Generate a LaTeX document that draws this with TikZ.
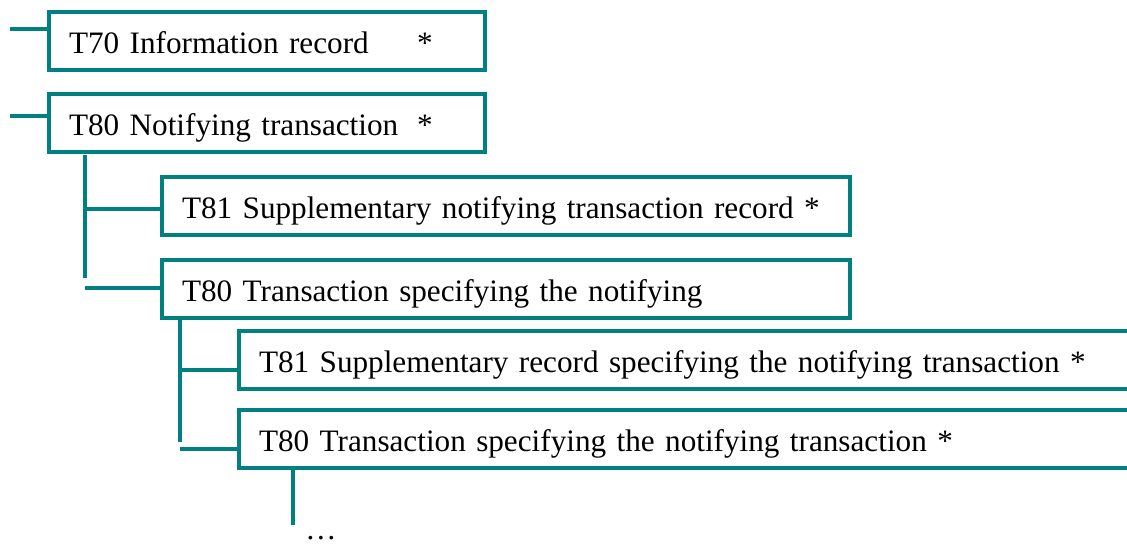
\documentclass[tikz,border=0pt]{standalone}
\usepackage{fontspec}
\setmainfont{Liberation Serif}
\tikzset{
  recbox/.style={
    rectangle,
    draw=teal, line width=2pt,
    inner xsep=10pt,
    minimum height=29pt,
    text height=15pt, text depth=3pt,
    align=left,
    font=\fontsize{15.6}{19}\selectfont,
    anchor=north west},
  link/.style={draw=teal, line width=2pt},
}
\begin{document}
\begin{tikzpicture}[x=0.5pt, y=-0.5pt]
     \useasboundingbox (0,0) rectangle (1127,543);
     \node[recbox, text width=198pt] (InfoRec)  at (47,10)  {T70 Information record\hspace{1.55em}*};
     \node[recbox, text width=198pt] (NotifTr)  at (47,92)  {T80 Notifying transaction\hspace{0.6em}*};
     \node[recbox, text width=324pt] (SuppNotif) at (160,175) {T81 Supplementary notifying transaction record *};
     \node[recbox, text width=324pt] (SpecTr)   at (160,258) {T80 Transaction specifying the notifying};
     \node[recbox, text width=455pt] (SuppSpec) at (237,329) {T81 Supplementary record specifying the notifying transaction *};
     \node[recbox, text width=455pt] (SpecNotif) at (237,408) {T80 Transaction specifying the notifying transaction *};
     \node[anchor=base west, inner sep=0pt, font=\fontsize{15.6}{19}\selectfont] (More) at (305,539) {…};
     % stubs and trunks
     \coordinate (sInfo)  at (10,29);
     \coordinate (sNotif) at (10,116);
     \draw[link] (sInfo) -- (sInfo -| InfoRec.west);
     \draw[link] (sNotif) -- (sNotif -| NotifTr.west);
     \coordinate (tA1) at (85,155);
     \coordinate (tA2) at (85,278);
     \coordinate (bA1) at (85,209);
     \coordinate (bA2) at (85,288);
     \draw[link] (tA1) -- (tA2);
     \draw[link] (bA1) -- (bA1 -| SuppNotif.west);
     \draw[link] (bA2) -- (bA2 -| SpecTr.west);
     \coordinate (tB1) at (180,319);
     \coordinate (tB2) at (180,442);
     \coordinate (bB1) at (180,370);
     \coordinate (bB2) at (180,449);
     \draw[link] (tB1) -- (tB2);
     \draw[link] (bB1) -- (bB1 -| SuppSpec.west);
     \draw[link] (bB2) -- (bB2 -| SpecNotif.west);
     \coordinate (tC1) at (293,469);
     \coordinate (tC2) at (293,525);
     \draw[link] (tC1) -- (tC2);
\end{tikzpicture}
\end{document}
